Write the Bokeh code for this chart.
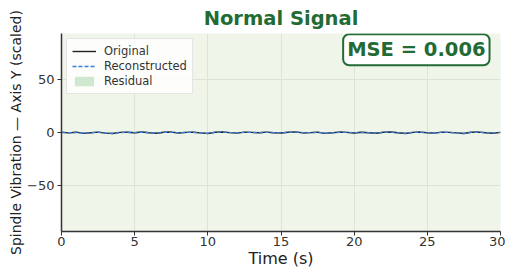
from bokeh.plotting import figure
from bokeh.models import Range1d, Label, Legend, LegendItem, FixedTicker
from bokeh.embed import file_html
from bokeh.resources import INLINE

# data
time_s = [i * 0.5 for i in range(61)]
original = [0.2, -0.4, 0.3, -0.8, -0.2, 0.4, -0.6, -1.0, 0.1, 0.3, -0.3, 0.5, -0.2, -0.7, 0.2, 0.4,
            -0.5, 0.1, 0.3, -0.4, -0.9, 0.2, 0.5, -0.1, -0.6, 0.3, 0.1, -0.3, 0.4, -0.2, -0.5,
            0.2, 0.6, -0.4, -0.1, 0.3, -0.8, -0.3, 0.4, 0.1, -0.5, 0.3, -0.2, -0.7, 0.2, 0.5,
            -0.3, -0.9, 0.1, 0.4, -0.2, -0.6, 0.3, 0.1, -0.4, -1.0, 0.2, 0.4, -0.3, -0.7, 0.1]
reconstructed = [0.1, -0.3, 0.2, -0.7, -0.2, 0.3, -0.5, -0.9, 0.0, 0.3, -0.2, 0.4, -0.2, -0.6, 0.2, 0.3,
                 -0.4, 0.1, 0.2, -0.4, -0.8, 0.1, 0.4, -0.1, -0.5, 0.2, 0.1, -0.3, 0.3, -0.2, -0.4,
                 0.2, 0.5, -0.3, -0.1, 0.2, -0.7, -0.3, 0.3, 0.1, -0.4, 0.2, -0.2, -0.6, 0.2, 0.4,
                 -0.3, -0.8, 0.1, 0.3, -0.2, -0.5, 0.2, 0.1, -0.4, -0.9, 0.2, 0.3, -0.3, -0.6, 0.1]
x_ticks = [0, 5, 10, 15, 20, 25, 30]
y_ticks = [-50, 0, 50]
mse_text = "MSE = 0.006"
title_text = "Normal Signal"

FONT = "DejaVu Sans"
GREEN = "#236b35"

p = figure(width=500, height=270, output_backend="svg", toolbar_location=None,
           x_range=Range1d(0, 30), y_range=Range1d(-93, 93),
           min_border_left=10, min_border_right=5, min_border_top=0, min_border_bottom=0)
p.margin = (0, 0, 0, 5)

p.title.text = title_text
p.title.align = "center"
p.title.text_font = FONT
p.title.text_font_size = "19.5px"
p.title.text_font_style = "bold"
p.title.text_color = GREEN
p.title.standoff = 8

p.background_fill_color = "#f0f5e9"
p.border_fill_color = "white"
p.outline_line_color = None

p.xgrid.grid_line_color = "#dde3d6"
p.ygrid.grid_line_color = "#dde3d6"
p.xaxis.ticker = FixedTicker(ticks=x_ticks)
p.yaxis.ticker = FixedTicker(ticks=y_ticks)
p.xgrid.ticker = FixedTicker(ticks=x_ticks)
p.ygrid.ticker = FixedTicker(ticks=y_ticks)

for ax in (p.xaxis[0], p.yaxis[0]):
    ax.axis_line_color = "#333333"
    ax.axis_line_width = 1.5
    ax.major_tick_line_color = "#333333"
    ax.major_tick_out = 4
    ax.major_tick_in = 0
    ax.minor_tick_line_color = None
    ax.major_label_text_font = FONT
    ax.major_label_text_font_size = "13px"
    ax.major_label_text_color = "#333333"
    ax.axis_label_text_font = FONT
    ax.axis_label_text_font_style = "normal"
    ax.axis_label_text_color = "#222222"

p.xaxis.major_label_standoff = 1
p.yaxis.major_label_standoff = 3
p.xaxis.axis_label = "Time (s)"
p.xaxis.axis_label_text_font_size = "16px"
p.xaxis.axis_label_standoff = 0
p.yaxis.axis_label = "Spindle Vibration \u2014 Axis Y (scaled)"
p.yaxis.axis_label_text_font_size = "14px"
p.yaxis.axis_label_standoff = 0
p.yaxis.major_label_overrides = {-50: "\u221250"}

r_res = p.varea(x=time_s, y1=original, y2=reconstructed, fill_color="#7fbf7f", fill_alpha=0.35)
r_orig = p.line(time_s, original, line_color="#222222", line_width=1.4)
r_rec = p.line(time_s, reconstructed, line_color="#3b7dd8", line_width=1.4, line_dash="4 2")

legend = Legend(items=[LegendItem(label="Original", renderers=[r_orig]),
                       LegendItem(label="Reconstructed", renderers=[r_rec]),
                       LegendItem(label="Residual", renderers=[r_res])],
                location="top_left")
legend.label_text_font = FONT
legend.label_text_font_size = "11.5px"
legend.label_text_color = "#333333"
legend.glyph_height = 12
legend.glyph_width = 24
legend.label_height = 12
legend.label_standoff = 8
legend.spacing = 1
legend.padding = 5
legend.margin = 5
legend.border_line_color = "#cccccc"
legend.background_fill_alpha = 0.85
p.add_layout(legend)

mse = Label(x=29.25, y=92.3, text=mse_text,
            text_font=FONT, text_font_size="19.5px", text_font_style="bold", text_color=GREEN,
            text_align="right", text_baseline="top",
            border_line_color=GREEN, border_line_width=2, background_fill_color="white",
            padding=4, border_radius=6)
p.add_layout(mse)

open("out.html", "w").write(file_html(p, INLINE))
